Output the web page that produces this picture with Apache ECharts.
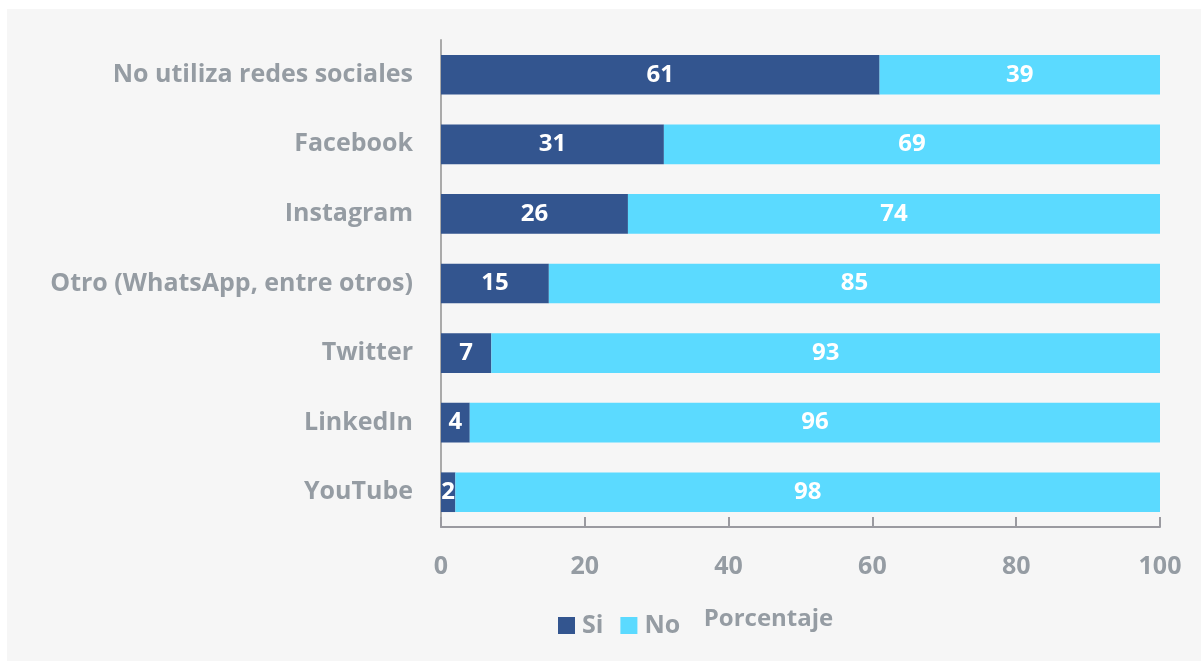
<!DOCTYPE html>
<html><head><meta charset="utf-8">
<script src="https://cdn.jsdelivr.net/npm/echarts@6/dist/echarts.min.js"></script>
<style>html,body{margin:0;padding:0;background:#fff}#wrap{position:absolute;left:7px;top:9px;width:1194px;height:652px;background:#f6f6f6}#c{width:1194px;height:652px}</style>
</head><body><div id="wrap"><div id="c"></div></div>
<script>
const categories = ["No utiliza redes sociales","Facebook","Instagram","Otro (WhatsApp, entre otros)","Twitter","LinkedIn","YouTube"];
const siValues = [61,31,26,15,7,4,2];
const noValues = [39,69,74,85,93,96,98];
const xTicks = [0,20,40,60,80,100];
const gray = '#959ca3';
const FF = 'Open Sans';
const chart = echarts.init(document.getElementById('c'));
const lbl = {show:true,position:'inside',color:'#fff',fontFamily:FF,fontWeight:'bold',fontSize:24};
chart.setOption({
  backgroundColor:'#f6f6f6',
  animation:false,
  grid:{left:434,right:41,top:31,bottom:134,containLabel:false},
  legend:{left:546,top:599,itemWidth:17,itemHeight:17,itemGap:17,icon:'rect',
    textStyle:{color:gray,fontFamily:FF,fontWeight:'bold',fontSize:25,padding:[4,0,0,2]},
    data:['Si','No']},
  xAxis:{type:'value',min:0,max:100,interval:20,
    name:'Porcentaje',nameLocation:'middle',nameGap:80,
    nameTextStyle:{color:gray,fontFamily:FF,fontWeight:'bold',fontSize:24,padding:[0,64,0,0]},
    axisLine:{show:true,lineStyle:{color:'#9a9aa0',width:2}},
    axisTick:{show:true,inside:true,length:10,lineStyle:{color:'#9a9aa0',width:2}},
    axisLabel:{color:gray,fontFamily:FF,fontWeight:'bold',fontSize:25,margin:27,
      formatter:v=>xTicks.includes(v)?String(v):''},
    splitLine:{show:false}},
  yAxis:{type:'category',inverse:true,data:categories,
    axisLine:{show:true,lineStyle:{color:'#aaaaaa',width:2}},
    axisTick:{show:false},
    axisLabel:{color:gray,fontFamily:FF,fontWeight:'bold',fontSize:25,margin:28}},
  series:[
    {name:'Si',type:'bar',stack:'t',data:siValues,barWidth:'57%',itemStyle:{color:'#33558f'},label:lbl},
    {name:'No',type:'bar',stack:'t',data:noValues,barWidth:'57%',itemStyle:{color:'#5bdaff'},label:lbl}
  ]
});
</script></body></html>
